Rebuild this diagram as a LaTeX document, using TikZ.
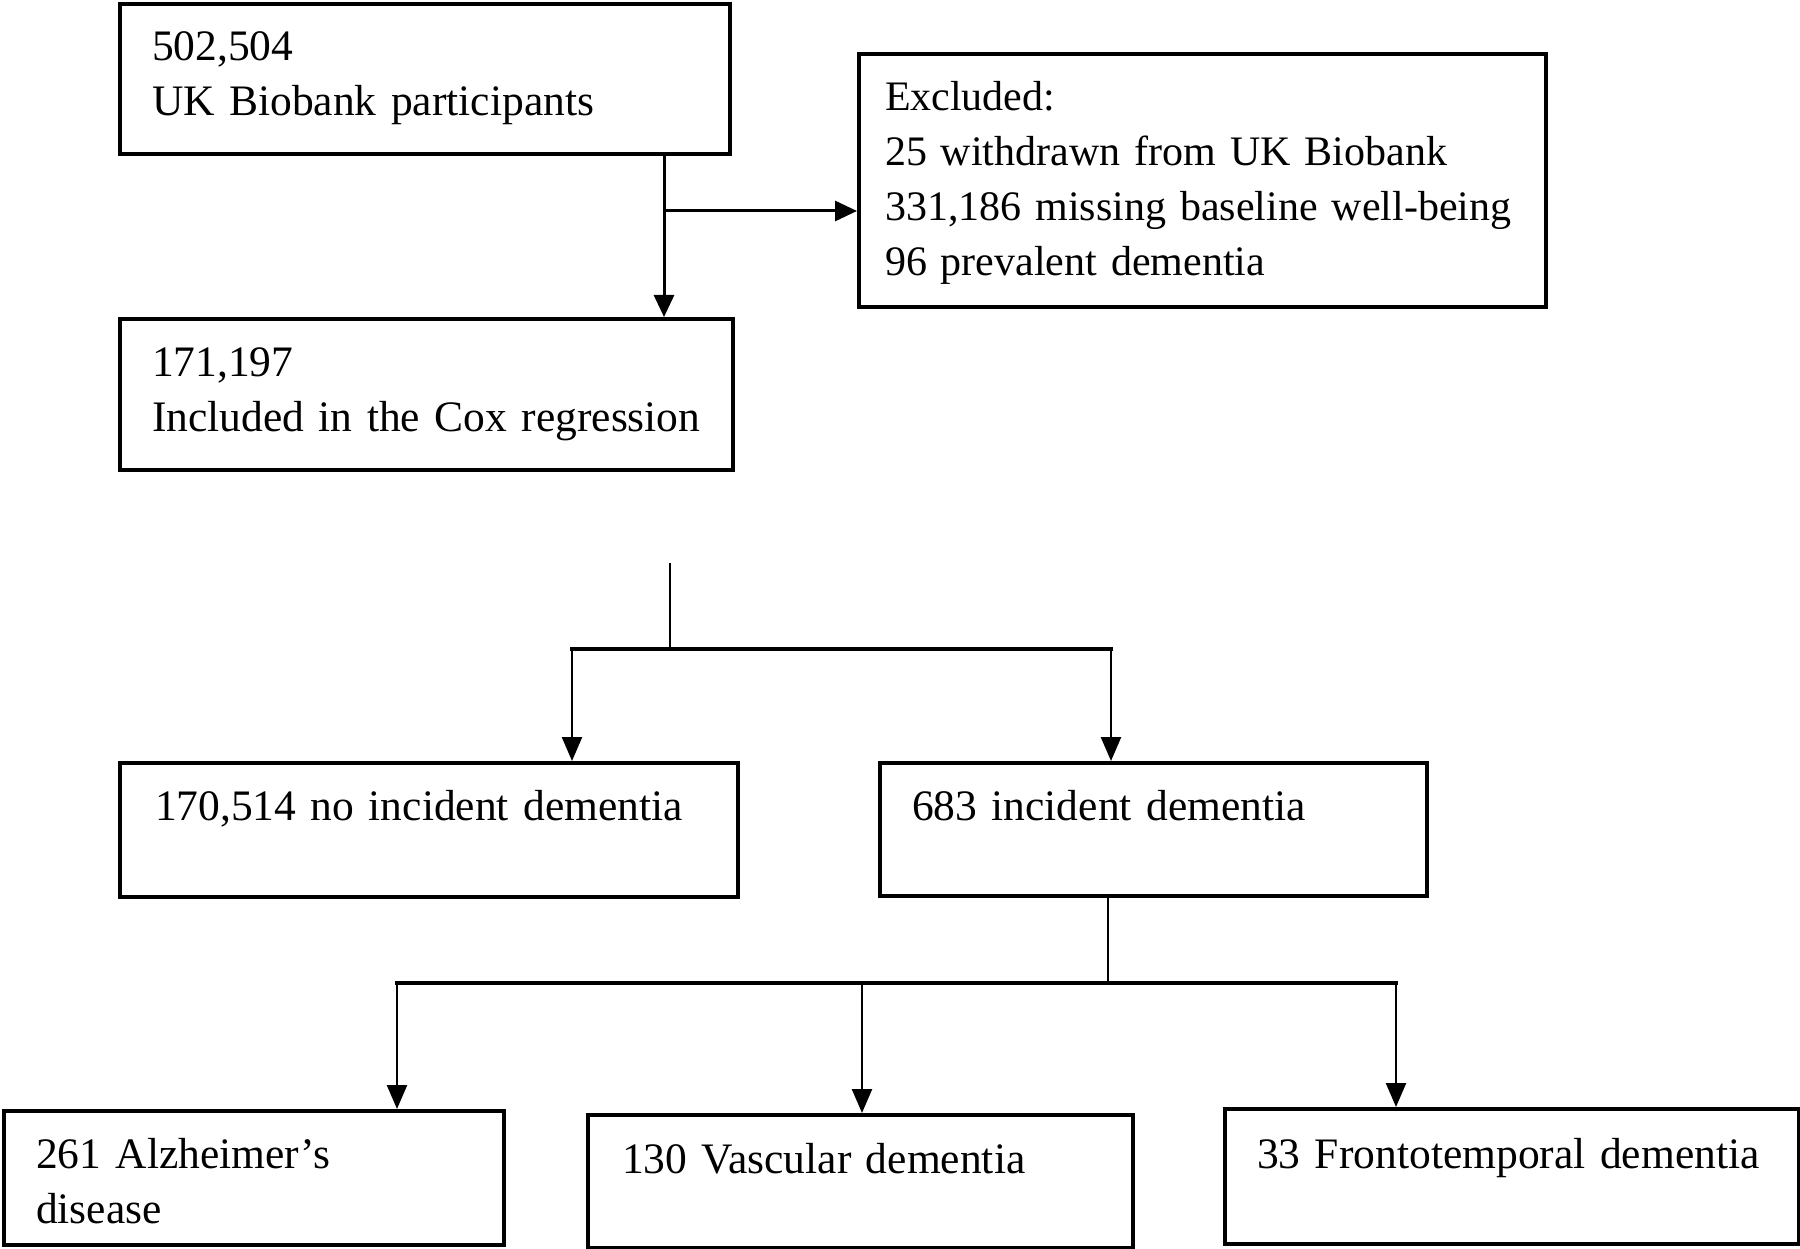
\documentclass[tikz,border=0pt]{standalone}
\usepackage{fontspec}
\setmainfont{Liberation Serif}
\usetikzlibrary{arrows.meta}
\tikzset{
    flow-box/.style = {draw=black, line width=4pt, rectangle, anchor=north west, inner sep=0pt, align=left, text height=57pt, font=\fontsize{43.5}{55}\selectfont},
    flow-line/.style = {line width=3.5pt, line cap=rect},
    thin-line/.style = {line width=2.5pt},
    flow-arrow/.style = {line width=3pt, -{Triangle[length=22pt,width=20pt]}},
    thin-arrow/.style = {line width=2.5pt, -{Triangle[length=24pt,width=20pt]}},
}
\begin{document}
\begin{tikzpicture}[x=1pt, y=-1pt]
\useasboundingbox (0,0) rectangle (1800,1249);
\node [flow-box, minimum width=610pt, text width=546pt, text depth=93pt] (cohort) at (118,2) {502,504\\UK Biobank participants};
\node [flow-box, minimum width=687pt, text width=635pt, text depth=196pt, font=\fontsize{42}{55}\selectfont] (excluded) at (857,52) {Excluded:\\25 withdrawn from UK Biobank\\331,186 missing baseline well-being\\96 prevalent dementia};
\node [flow-box, minimum width=613pt, text width=549pt, text height=58pt, text depth=93pt] (included) at (118,317) {171,197\\Included in the Cox regression};
\node [flow-box, minimum width=618pt, text width=548pt, text depth=77pt] (no-dementia) at (118,761) {170,514 no incident dementia};
\node [flow-box, minimum width=547pt, text width=483pt, text depth=76pt] (dementia) at (878,761) {683 incident dementia};
\node [flow-box, minimum width=500pt, text width=436pt, text depth=77pt] (alzheimers) at (2,1109) {261 Alzheimer’s\\disease};
\node [flow-box, minimum width=545pt, text width=477pt, text height=58pt, text depth=75pt] (vascular) at (586,1113) {130 Vascular dementia};
\node [flow-box, minimum width=574pt, text width=510pt, text height=59pt, text depth=76pt] (frontotemporal) at (1223,1107) {33 Frontotemporal dementia};

\coordinate (top-split) at (664,211);
\draw [flow-arrow] (cohort.south -| top-split) -- (included.north -| top-split);
\draw [flow-arrow] (top-split) -- (excluded.west |- top-split);

\coordinate (mid-start) at (670,563);
\coordinate (mid-split) at (670,649);
\coordinate (mid-left) at (572,649);
\coordinate (mid-right) at (1111,649);
\draw [thin-line] (mid-start) -- (mid-split);
\draw [flow-line] (mid-left) -- (mid-right);
\draw [thin-arrow] (mid-left) -- (no-dementia.north -| mid-left);
\draw [thin-arrow] (mid-right) -- (dementia.north -| mid-right);

\coordinate (low-split) at (1108,983);
\coordinate (low-left) at (397,983);
\coordinate (low-mid) at (862,983);
\coordinate (low-right) at (1396,983);
\draw [thin-line] (dementia.south -| low-split) -- (low-split);
\draw [flow-line] (low-left) -- (low-right);
\draw [thin-arrow] (low-left) -- (alzheimers.north -| low-left);
\draw [thin-arrow] (low-mid) -- (vascular.north -| low-mid);
\draw [thin-arrow] (low-right) -- (frontotemporal.north -| low-right);
\end{tikzpicture}
\end{document}
